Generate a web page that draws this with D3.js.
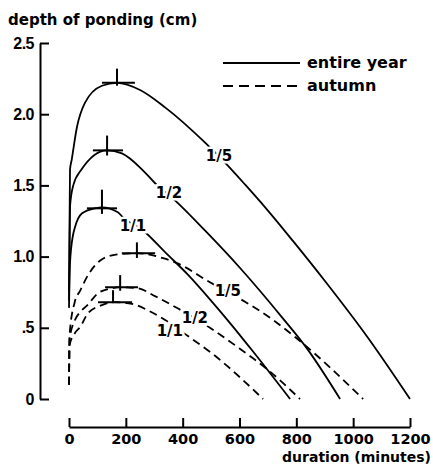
<!DOCTYPE html>
<html>
<head>
<meta charset="utf-8">
<script src="https://cdn.jsdelivr.net/npm/d3@7"></script>
<style>
  html, body { margin: 0; padding: 0; background: #fff; }
  svg { display: block; }
  text { font-family: "DejaVu Sans", sans-serif; font-weight: bold; fill: #000; }
</style>
</head>
<body>
<svg id="chart" width="433" height="465"></svg>
<script>
// ---- data (minutes, depth of ponding in cm) ----
const yearR5 = [[0,0.76],[3.5,1.61],[9.5,1.68],[28,1.91],[56,2.08],[116,2.20],[169,2.22],[250,2.17],[338,2.048],[479,1.80],[549,1.66],[620,1.505],[697,1.33],[788,1.11],[900,0.83],[1052,0.43],[1200,0.0]];
const yearR2 = [[0,0.69],[3.5,1.35],[15,1.50],[42,1.606],[134,1.746],[186,1.725],[260,1.606],[303,1.515],[373,1.395],[480,1.18],[602,0.92],[749,0.575],[841,0.345],[954,0.0]];
const yearR1 = [[0,0.64],[3.5,0.954],[14,1.15],[21,1.206],[46,1.304],[91,1.339],[116,1.346],[172,1.311],[190,1.276],[260,1.185],[338,1.031],[420,0.87],[496,0.70],[566,0.535],[647,0.335],[778,0.0]];
const autR5 = [[0,0.1],[2,0.45],[20,0.68],[39,0.76],[67,0.87],[115,0.98],[170,1.015],[239,1.024],[331,0.989],[380,0.954],[496,0.82],[605,0.70],[718,0.555],[802,0.425],[1035,0.0]];
const autR2 = [[0,0.1],[2,0.42],[20,0.55],[39,0.61],[63,0.655],[102,0.743],[151,0.778],[180,0.785],[243,0.778],[296,0.729],[384,0.635],[496,0.50],[600,0.355],[697,0.21],[813,0.0]];
const autR1 = [[0,0.1],[2,0.38],[20,0.46],[39,0.505],[67,0.603],[116,0.659],[155,0.68],[222,0.668],[280,0.62],[350,0.54],[420,0.44],[500,0.325],[683,0.0]];

const seriesData   = [yearR5, yearR2, yearR1, autR5, autR2, autR1];
const seriesPeriod = ["entire year","entire year","entire year","autumn","autumn","autumn"];
const seriesLabel  = ["1/5","1/2","1/1","1/5","1/2","1/1"];

// peak markers: horizontal bar range and vertical tick (minutes / cm)
const peakMinute = [169, 134, 116, 239, 180, 155];
const peakDepth  = [2.22, 1.746, 1.339, 1.024, 0.785, 0.68];
const barFrom    = [116, 84, 63, 186, 127, 102];
const barTo      = [232, 190, 169, 303, 243, 222];
const tickTop    = [2.32, 1.85, 1.47, 1.10, 0.87, 0.764];
const tickBottom = [2.20, 1.71, 1.30, 0.99, 0.76, 0.673];

// curve label anchors (minutes / cm)
const labelMinute = [528, 352, 225, 559, 443, 355];
const labelDepth  = [1.711, 1.452, 1.220, 0.764, 0.575, 0.477];

const yTicks = [0, 0.5, 1.0, 1.5, 2.0, 2.5];
const yTickLabels = ["0", ".5", "1.0", "1.5", "2.0", "2.5"];
const xTicks = [0, 200, 400, 600, 800, 1000, 1200];
const legendItems = ["entire year", "autumn"];

// ---- layout ----
const svg = d3.select("#chart");
const x = d3.scaleLinear().domain([0, 1200]).range([69, 410]);
const y = d3.scaleLinear().domain([0, 2.5]).range([399, 43]);
const dashFor = p => p === "autumn" ? "8,5" : null;

// y axis
const yAxis = d3.axisLeft(y).tickValues(yTicks)
  .tickFormat((d, i) => yTickLabels[i]).tickSize(-9).tickSizeOuter(0).tickPadding(6);
const gy = svg.append("g").attr("transform", "translate(40,0)").call(yAxis);
gy.select(".domain").attr("stroke-width", 2);
gy.selectAll(".tick line").attr("stroke-width", 2);
gy.selectAll(".tick text")
  .style("font-family", "'Liberation Sans', Arial, sans-serif")
  .style("font-weight", "bold").style("font-size", "16px").attr("letter-spacing", "-0.5");

// x axis (separate, below)
const xAxis = d3.axisBottom(x).tickValues(xTicks).tickFormat(d3.format("d"))
  .tickSize(-9).tickSizeOuter(0).tickPadding(7);
const gx = svg.append("g").attr("transform", "translate(0,427)").call(xAxis);
gx.select(".domain").attr("stroke-width", 2);
gx.selectAll(".tick line").attr("stroke-width", 2);
gx.selectAll(".tick text").style("font-family", "'DejaVu Sans', sans-serif")
  .style("font-weight", "bold").style("font-size", "14.5px");

// axis titles
svg.append("text").attr("x", 8).attr("y", 25).style("font-size", "15px")
  .text("depth of ponding (cm)");
svg.append("text").attr("x", 431).attr("y", 461.5).attr("text-anchor", "end")
  .style("font-size", "14px").text("duration (minutes)");

// curves
const line = d3.line().x(d => x(d[0])).y(d => y(d[1])).curve(d3.curveMonotoneX);
svg.append("g").selectAll("path").data(seriesData).join("path")
  .attr("d", line)
  .attr("fill", "none").attr("stroke", "#000").attr("stroke-width", 1.8)
  .attr("stroke-dasharray", (d, i) => dashFor(seriesPeriod[i]));

// peak markers
const marks = svg.append("g").attr("stroke", "#000").attr("stroke-width", 2);
marks.selectAll("line.bar").data(peakMinute).join("line").attr("class", "bar")
  .attr("x1", (d, i) => x(barFrom[i])).attr("x2", (d, i) => x(barTo[i]))
  .attr("y1", (d, i) => y(peakDepth[i])).attr("y2", (d, i) => y(peakDepth[i]));
marks.selectAll("line.tk").data(peakMinute).join("line").attr("class", "tk")
  .attr("x1", d => x(d)).attr("x2", d => x(d))
  .attr("y1", (d, i) => y(tickTop[i])).attr("y2", (d, i) => y(tickBottom[i]));

// curve labels with white halo to break the lines
svg.append("g").selectAll("text").data(seriesLabel).join("text")
  .attr("x", (d, i) => x(labelMinute[i])).attr("y", (d, i) => y(labelDepth[i]))
  .attr("dy", "0.36em").attr("text-anchor", "middle")
  .style("font-size", "15px")
  .attr("stroke", "#fff").attr("stroke-width", 5).attr("paint-order", "stroke")
  .text(d => d);

// legend
const lg = svg.append("g");
legendItems.forEach((name, i) => {
  const ly = 63 + i * 23;
  lg.append("line").attr("x1", 223).attr("x2", 300).attr("y1", ly).attr("y2", ly)
    .attr("stroke", "#000").attr("stroke-width", 1.8)
    .attr("stroke-dasharray", name === "autumn" ? "10,6" : null);
  lg.append("text").attr("x", 307).attr("y", ly).attr("dy", "0.32em")
    .style("font-size", "16px").text(name);
});
</script>
</body>
</html>
